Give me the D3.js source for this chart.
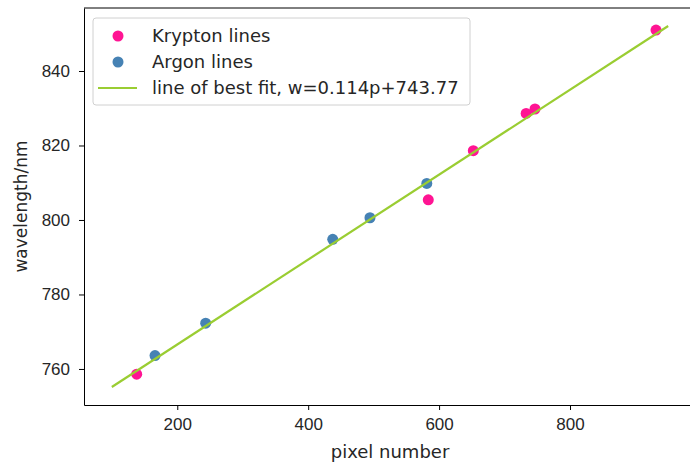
<!DOCTYPE html>
<html>
<head>
<meta charset="utf-8">
<script src="https://cdn.jsdelivr.net/npm/d3@7"></script>
<style>
  body { margin: 0; background: #fff; }
  svg { display: block; font-family: "DejaVu Sans", sans-serif; }
  .axis path, .axis line { stroke: #000; }
  .axis text { font-size: 17px; fill: #262626; }
</style>
</head>
<body>
<svg id="chart" width="690" height="463"></svg>
<script>
// Data
const kryptonPixels = [138, 583.5, 652.3, 733, 746.5, 931.4];
const kryptonWavelengths = [758.6, 805.4, 818.6, 828.6, 829.8, 851.0];
const argonPixels = [166, 243.4, 437.5, 494.4, 581.2];
const argonWavelengths = [763.6, 772.3, 794.8, 800.6, 809.8];
const fitPixels = [100, 950];
const fitWavelengths = [755.17, 852.07];
const xTicks = [200, 400, 600, 800];
const yTicks = [760, 780, 800, 820, 840];
const legendLabels = ["Krypton lines", "Argon lines", "line of best fit, w=0.114p+743.77"];

const svg = d3.select("#chart");
const margins = {left: 84, top: 8};
const chartWidth = 612;   // right spine falls just outside the picture
const chartHeight = 397;
const fontSize = 18;

const pad = ext => {
    const d = (ext[1] - ext[0]) * 0.05;
    return [ext[0] - d, ext[1] + d];
};

const xScale = d3.scaleLinear()
                 .domain(pad(d3.extent(fitPixels)))
                 .range([0, chartWidth]);
const yScale = d3.scaleLinear()
                 .domain(pad(d3.extent(fitWavelengths)))
                 .range([chartHeight, 0]);

const chart = svg.append("g")
                 .attr("transform", `translate(${margins.left}, ${margins.top})`);

// axes
chart.append("g")
     .attr("class", "axis")
     .attr("transform", `translate(0, ${chartHeight})`)
     .call(d3.axisBottom(xScale).tickValues(xTicks).tickSize(5).tickPadding(8).tickSizeOuter(0));
chart.append("g")
     .attr("class", "axis")
     .call(d3.axisLeft(yScale).tickValues(yTicks).tickSize(5).tickPadding(9).tickSizeOuter(0));

// top and right spines
chart.append("line")
     .attr("x1", 0).attr("x2", chartWidth)
     .attr("y1", 0).attr("y2", 0)
     .attr("stroke", "#000");
chart.append("line")
     .attr("x1", chartWidth).attr("x2", chartWidth)
     .attr("y1", 0).attr("y2", chartHeight)
     .attr("stroke", "#000");

// labels
svg.append("text")
   .attr("x", margins.left + chartWidth / 2)
   .attr("y", 458)
   .attr("text-anchor", "middle")
   .attr("font-size", fontSize)
   .attr("fill", "#262626")
   .text("pixel number");
svg.append("text")
   .attr("transform", `translate(27, ${margins.top + chartHeight / 2}) rotate(-90)`)
   .attr("text-anchor", "middle")
   .attr("font-size", 17)
   .attr("fill", "#262626")
   .text("wavelength/nm");

// points
const kryptonData = kryptonPixels.map((p, i) => ({p: p, w: kryptonWavelengths[i]}));
const argonData = argonPixels.map((p, i) => ({p: p, w: argonWavelengths[i]}));

chart.selectAll("circle.kr")
     .data(kryptonData)
     .join("circle")
     .attr("class", "kr")
     .attr("cx", d => xScale(d.p))
     .attr("cy", d => yScale(d.w))
     .attr("r", 5.5)
     .attr("fill", "#ff1493");
chart.selectAll("circle.ar")
     .data(argonData)
     .join("circle")
     .attr("class", "ar")
     .attr("cx", d => xScale(d.p))
     .attr("cy", d => yScale(d.w))
     .attr("r", 5.5)
     .attr("fill", "#4682b4");

// best fit line
const fitData = fitPixels.map((p, i) => ({p: p, w: fitWavelengths[i]}));
chart.append("path")
     .datum(fitData)
     .attr("fill", "none")
     .attr("stroke", "#9acd32")
     .attr("stroke-width", 2.2)
     .attr("d", d3.line().x(d => xScale(d.p)).y(d => yScale(d.w)));

// legend
const legend = svg.append("g").attr("transform", "translate(93, 18)");
legend.append("rect")
      .attr("width", 377)
      .attr("height", 87)
      .attr("rx", 3)
      .attr("fill", "#fff")
      .attr("fill-opacity", 0.8)
      .attr("stroke", "#d0d0d0");
const rows = legend.selectAll("g.row")
                   .data(legendLabels)
                   .join("g")
                   .attr("class", "row")
                   .attr("transform", (d, i) => `translate(0, ${18 + i * 26})`);
rows.filter((d, i) => i < 2)
    .append("circle")
    .attr("cx", 25)
    .attr("r", 5.5)
    .attr("fill", (d, i) => i === 0 ? "#ff1493" : "#4682b4");
rows.filter((d, i) => i === 2)
    .append("line")
    .attr("x1", 5).attr("x2", 44)
    .attr("stroke", "#9acd32")
    .attr("stroke-width", 2.2);
rows.append("text")
    .attr("x", 59)
    .attr("dy", "0.36em")
    .attr("font-size", fontSize)
    .attr("fill", "#262626")
    .text(d => d);
</script>
</body>
</html>
